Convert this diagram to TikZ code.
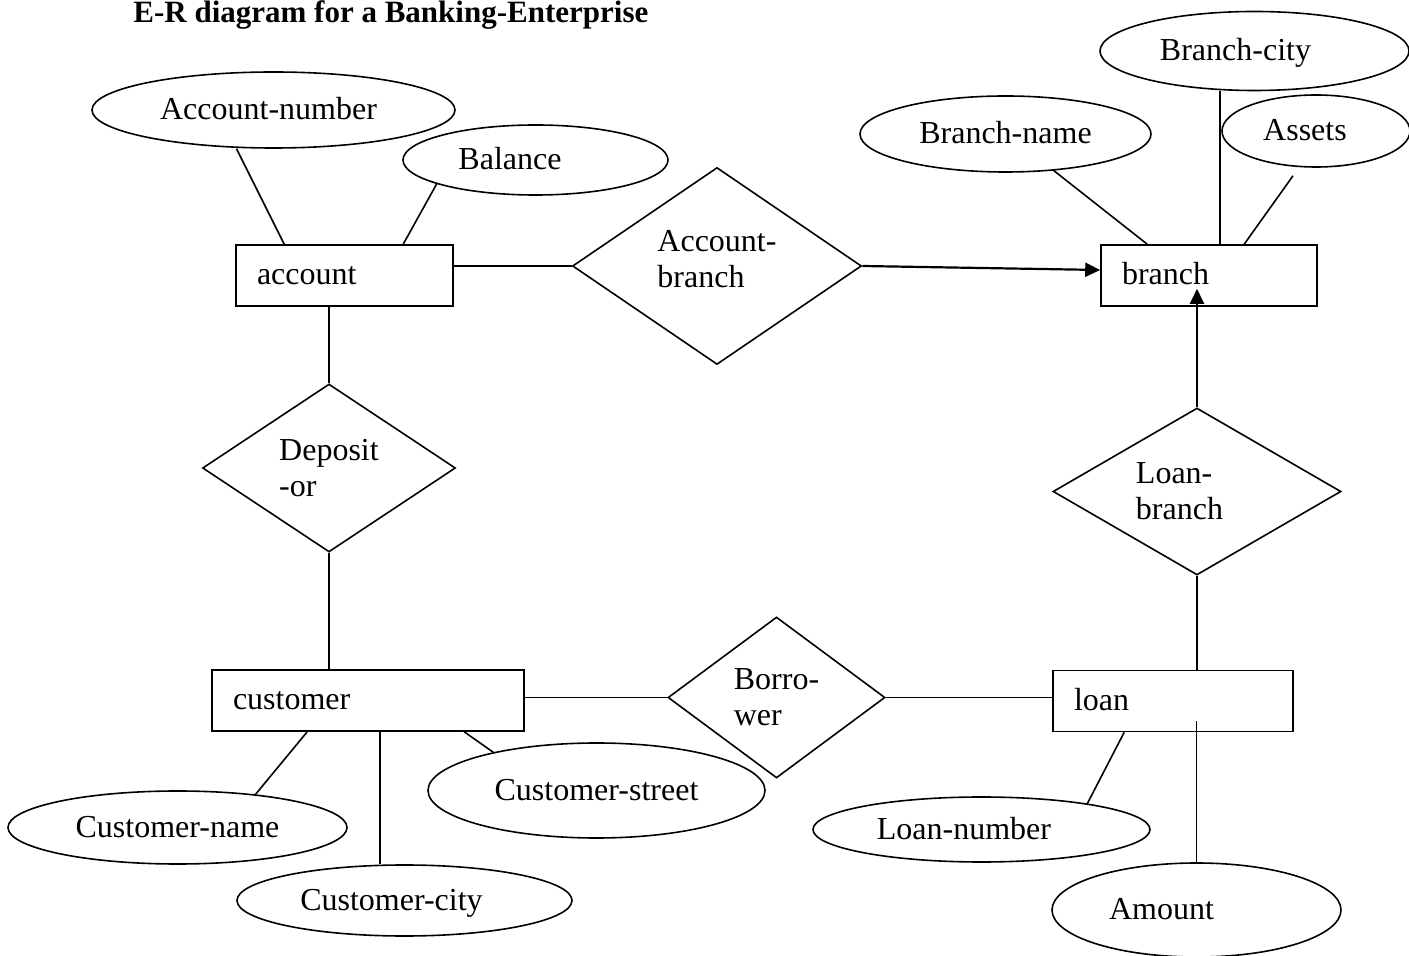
\documentclass[tikz,border=0pt]{standalone}
\usepackage{fontspec}
\setmainfont{Liberation Serif}
\usetikzlibrary{shapes.geometric,arrows.meta,calc}
\begin{document}
\begin{tikzpicture}[x=0.5pt,y=-0.5pt,
  txt/.style={font=\fontsize{16}{18}\selectfont},
  attr/.style={txt,ellipse,draw,line width=0.8pt,inner sep=0pt,text height=12.5pt,text depth=3pt},
  ent/.style={txt,rectangle,draw,line width=0.8pt,inner xsep=10.5pt,inner ysep=0pt,align=left,text height=12.5pt,text depth=3pt,minimum height=30.5pt},
  rel/.style={txt,diamond,draw,line width=0.8pt,inner sep=0pt,aspect=1.6,align=left},
  conn/.style={line width=0.8pt},
  arr/.style={line width=1.1pt,-{Triangle[length=7.5pt,width=7pt]}}
]
\useasboundingbox (0,0) rectangle (1409,956);
\clip (0,0) rectangle (1409,956);

\node[anchor=base west,font=\bfseries\fontsize{15.5}{18}\selectfont,inner sep=0pt] (title) at (133,23) {E-R diagram for a Banking-Enterprise};

% attributes
\node[attr,minimum width=181.5pt,minimum height=38pt] (an) at (273.5,110) {Account-number\hspace*{5pt}};
\node[attr,minimum width=132.5pt,minimum height=35pt] (bal) at (535.5,160) {Balance\hspace*{25.5pt}};
\node[attr,minimum width=145.5pt,minimum height=38pt] (bn) at (1005.5,134) {Branch-name};
\node[attr,minimum width=154.5pt,minimum height=39.5pt] (bc) at (1254.5,51) {Branch-city\hspace*{19pt}};
\node[attr,minimum width=94pt,minimum height=36pt] (as) at (1316,131) {Assets\hspace*{11pt}};
\node[attr,minimum width=168.5pt,minimum height=47.5pt] (cst) at (596.5,790.5) {Customer-street};
\node[attr,minimum width=169.5pt,minimum height=36.5pt] (cn) at (177.5,827.5) {Customer-name};
\node[attr,minimum width=167.5pt,minimum height=35.5pt] (cc) at (404.5,900.5) {Customer-city\hspace*{13pt}};
\node[attr,minimum width=168.5pt,minimum height=32.5pt] (ln) at (981.5,829.5) {Loan-number\hspace*{17.5pt}};
\node[attr,minimum width=144.5pt,minimum height=47pt] (am) at (1196.5,910) {Amount\hspace*{35pt}};

% entities
\node[ent,text width=87.5pt] (acc) at (344.5,275.5) {account};
\node[ent,text width=87pt] (br) at (1209,275.5) {branch};
\node[ent,text width=135pt] (cus) at (368,700.5) {customer};
\node[ent,text width=99pt] (loan) at (1173,701) {loan};

% relationships
\node[rel,minimum width=144.5pt,minimum height=98.5pt] (ab) at (717,266) {Account-\\branch\rule[-7pt]{0pt}{0pt}};
\node[rel,minimum width=126.5pt,minimum height=84pt] (dep) at (329,468) {Deposit\\-or};
\node[rel,minimum width=144pt,minimum height=83.5pt] (lb) at (1197,491.5) {Loan-\\branch\hspace*{17.5pt}};
\node[rel,minimum width=108.5pt,minimum height=80.5pt] (bor) at (776.5,697.5) {Borro-\\wer};

% connectors
\draw[conn] ($(an.south)+(-37,0)$) -- ($(acc.north west)+(49,0)$);
\draw[conn] ($(bal.center)+(-98.5,23.4)$) -- ($(acc.north west)+(168,0)$);
\draw[conn] (ab.west -| acc.east) -- (ab.west);
\draw[arr] (ab.east) -- ($(br.west)+(0,-5.5)$);
\draw[conn] (dep.north |- acc.south) -- (dep.north);
\draw[conn] (dep.south) -- (dep.south |- cus.north);
\draw[conn] (bor.west -| cus.east) -- (bor.west);
\draw[conn] (bor.east) -- (bor.east -| loan.west);
\draw[conn] (lb.south) -- (lb.south |- loan.north);
\draw[arr] (lb.north) -- ($(lb.north |- br.south)+(0,-18)$);
\draw[conn] ($(bn.center)+(47.5,36)$) -- ($(br.north west)+(47,0)$);
\coordinate (bcb) at ($(br.north west)+(120,0)$);
\draw[conn] (bcb) -- (bcb |- bc.south);
\draw[conn] ($(as.south)+(-23,8)$) -- ($(br.north west)+(144,0)$);
\draw[conn] ($(cus.south west)+(96,0)$) -- ($(cn.center)+(77.5,-32.5)$);
\coordinate (ccb) at ($(cus.south west)+(169,0)$);
\draw[conn] (ccb) -- (ccb |- cc.north);
\draw[conn] ($(cus.south west)+(253,0)$) -- ($(cst.center)+(-102.5,-37.7)$);
\draw[conn] ($(loan.south west)+(72,0)$) -- ($(ln.center)+(105.5,-25.3)$);
\draw[conn] (am.north) -- ($(am.north |- loan.south)+(0,-11)$);
\end{tikzpicture}
\end{document}
